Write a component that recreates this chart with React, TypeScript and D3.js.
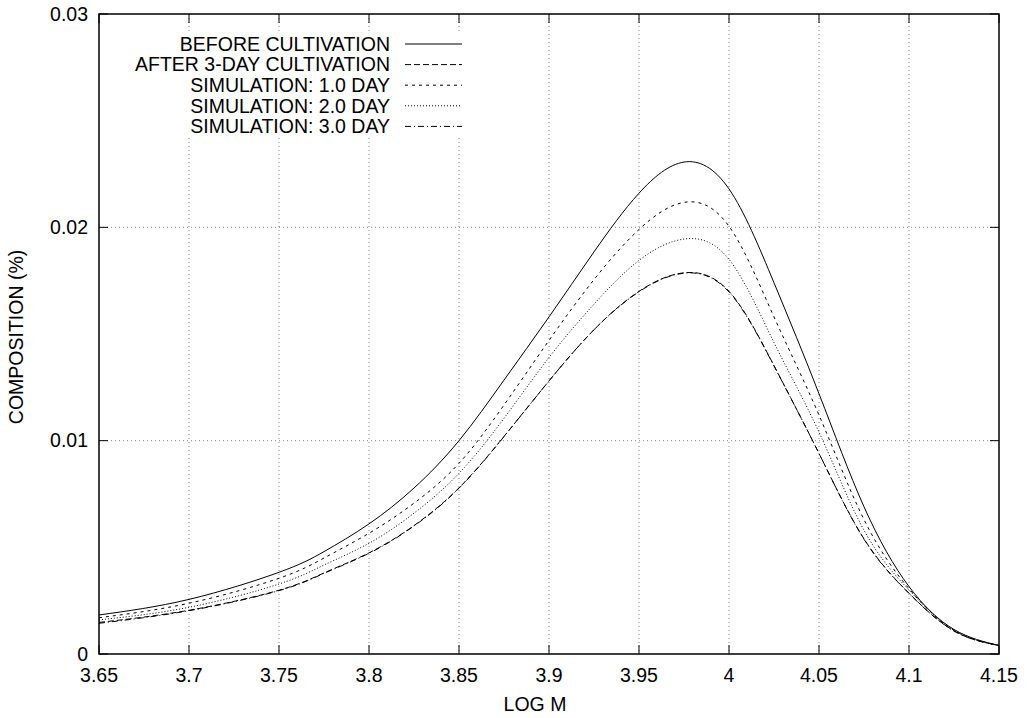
import React from 'react';
import * as d3 from 'd3';

// log M sample points
const logM = [3.65, 3.7, 3.75, 3.775, 3.8, 3.825, 3.85, 3.875, 3.9, 3.925, 3.95, 3.975, 4.0, 4.025, 4.05, 4.075, 4.1, 4.125, 4.15];

const beforeCultivation = [0.00183, 0.00256, 0.00383, 0.0048, 0.0061, 0.00778, 0.01, 0.01284, 0.0158, 0.01885, 0.0216, 0.02306, 0.0218, 0.0174, 0.0122, 0.0069, 0.00316, 0.00115, 0.0004];
const after3Day = [0.00148, 0.00205, 0.00299, 0.0038, 0.00474, 0.00602, 0.00779, 0.0102, 0.0128, 0.0152, 0.0170, 0.01787, 0.0170, 0.01352, 0.0094, 0.0054, 0.00285, 0.00108, 0.0004];
const sim1Day = [0.0017, 0.00238, 0.00355, 0.0045, 0.00566, 0.00707, 0.00894, 0.01167, 0.0147, 0.01755, 0.0199, 0.02117, 0.02005, 0.0158, 0.0112, 0.0063, 0.00306, 0.00112, 0.0004];
const sim2Day = [0.0016, 0.00219, 0.00328, 0.00417, 0.00519, 0.0066, 0.00847, 0.01105, 0.0139, 0.0164, 0.01845, 0.01945, 0.0185, 0.0146, 0.0104, 0.0058, 0.003, 0.0011, 0.0004];
const sim3Day = [0.00144, 0.00203, 0.00297, 0.00378, 0.00472, 0.006, 0.00777, 0.01019, 0.0128, 0.0152, 0.01698, 0.01785, 0.01697, 0.0135, 0.0094, 0.00538, 0.00284, 0.00108, 0.0004];

const xTicks = [3.65, 3.7, 3.75, 3.8, 3.85, 3.9, 3.95, 4.0, 4.05, 4.1, 4.15];
const yTicks = [0, 0.01, 0.02, 0.03];

const seriesList = [
  { name: 'BEFORE CULTIVATION', values: beforeCultivation, dash: null },
  { name: 'AFTER 3-DAY CULTIVATION', values: after3Day, dash: '6,3' },
  { name: 'SIMULATION: 1.0 DAY', values: sim1Day, dash: '3,4' },
  { name: 'SIMULATION: 2.0 DAY', values: sim2Day, dash: '1,2' },
  { name: 'SIMULATION: 3.0 DAY', values: sim3Day, dash: '6,3,1,3' },
];

const W = 1027;
const H = 718;
const margin = { top: 14, right: 28, bottom: 64, left: 99 };
const FONT = '"Liberation Sans", Arial, Helvetica, sans-serif';
const FS = 19.5;

export default function App() {
  const iw = W - margin.left - margin.right;
  const ih = H - margin.top - margin.bottom;

  const x = d3.scaleLinear().domain([3.65, 4.15]).range([0, iw]);
  const y = d3.scaleLinear().domain([0, 0.03]).range([ih, 0]);

  const line = d3.line<number>()
    .x((_, i) => x(logM[i]))
    .y(d => y(d))
    .curve(d3.curveNatural);

  const tick = 9;
  // legend geometry
  const legTextX = 390;
  const legLineX1 = 405;
  const legLineX2 = 462;
  const legY0 = 44;
  const legStep = 20.6;

  return (
    <svg width={W} height={H} style={{ position: 'absolute', left: 0, top: 0, background: '#fff' }} fontFamily={FONT}>
      <defs>
        <clipPath id="plotClip">
          <rect x={0} y={0} width={iw} height={ih} />
        </clipPath>
      </defs>
      <g transform={`translate(${margin.left},${margin.top})`}>
        {/* grid */}
        {xTicks.slice(1, -1).map(t => (
          <line key={`gx${t}`} x1={x(t)} x2={x(t)} y1={0} y2={ih} stroke="#888" strokeWidth={1} strokeDasharray="1,3" />
        ))}
        {yTicks.slice(1, -1).map(t => (
          <line key={`gy${t}`} x1={0} x2={iw} y1={y(t)} y2={y(t)} stroke="#888" strokeWidth={1} strokeDasharray="1,3" />
        ))}

        {/* legend background hides grid */}
        <rect x={138 - margin.left} y={33 - margin.top} width={470 - 138} height={137 - 33} fill="#fff" />

        {/* curves */}
        <g clipPath="url(#plotClip)">
          {seriesList.map(s => (
            <path key={s.name} d={line(s.values) || ''} fill="none" stroke="#000" strokeWidth={1}
              strokeDasharray={s.dash || undefined} />
          ))}
        </g>

        {/* ticks */}
        {xTicks.map(t => (
          <g key={`tx${t}`}>
            <line x1={x(t)} x2={x(t)} y1={ih} y2={ih - tick} stroke="#000" strokeWidth={1} />
            <line x1={x(t)} x2={x(t)} y1={0} y2={tick} stroke="#000" strokeWidth={1} />
            <text x={x(t)} y={ih + 28} textAnchor="middle" fontSize={FS}>{String(t)}</text>
          </g>
        ))}
        {yTicks.map(t => (
          <g key={`ty${t}`}>
            <line x1={0} x2={tick} y1={y(t)} y2={y(t)} stroke="#000" strokeWidth={1} />
            <line x1={iw} x2={iw - tick} y1={y(t)} y2={y(t)} stroke="#000" strokeWidth={1} />
            <text x={-11} y={y(t)} dy="0.35em" textAnchor="end" fontSize={FS}>{String(t)}</text>
          </g>
        ))}

        {/* frame */}
        <rect x={0} y={0} width={iw} height={ih} fill="none" stroke="#000" strokeWidth={1.5} />
      </g>

      {/* legend */}
      {seriesList.map((s, i) => (
        <g key={`leg${s.name}`}>
          <text x={legTextX} y={legY0 + i * legStep} dy="0.35em" textAnchor="end" fontSize={FS}>{s.name}</text>
          <line x1={legLineX1} x2={legLineX2} y1={legY0 + i * legStep} y2={legY0 + i * legStep}
            stroke="#000" strokeWidth={1} strokeDasharray={s.dash || undefined} />
        </g>
      ))}

      {/* axis titles */}
      <text x={535} y={711} textAnchor="middle" fontSize={FS}>LOG M</text>
      <text transform={`translate(23,${margin.top + ih / 2 + 3}) rotate(-90)`} textAnchor="middle" fontSize={FS}>COMPOSITION (%)</text>
    </svg>
  );
}
